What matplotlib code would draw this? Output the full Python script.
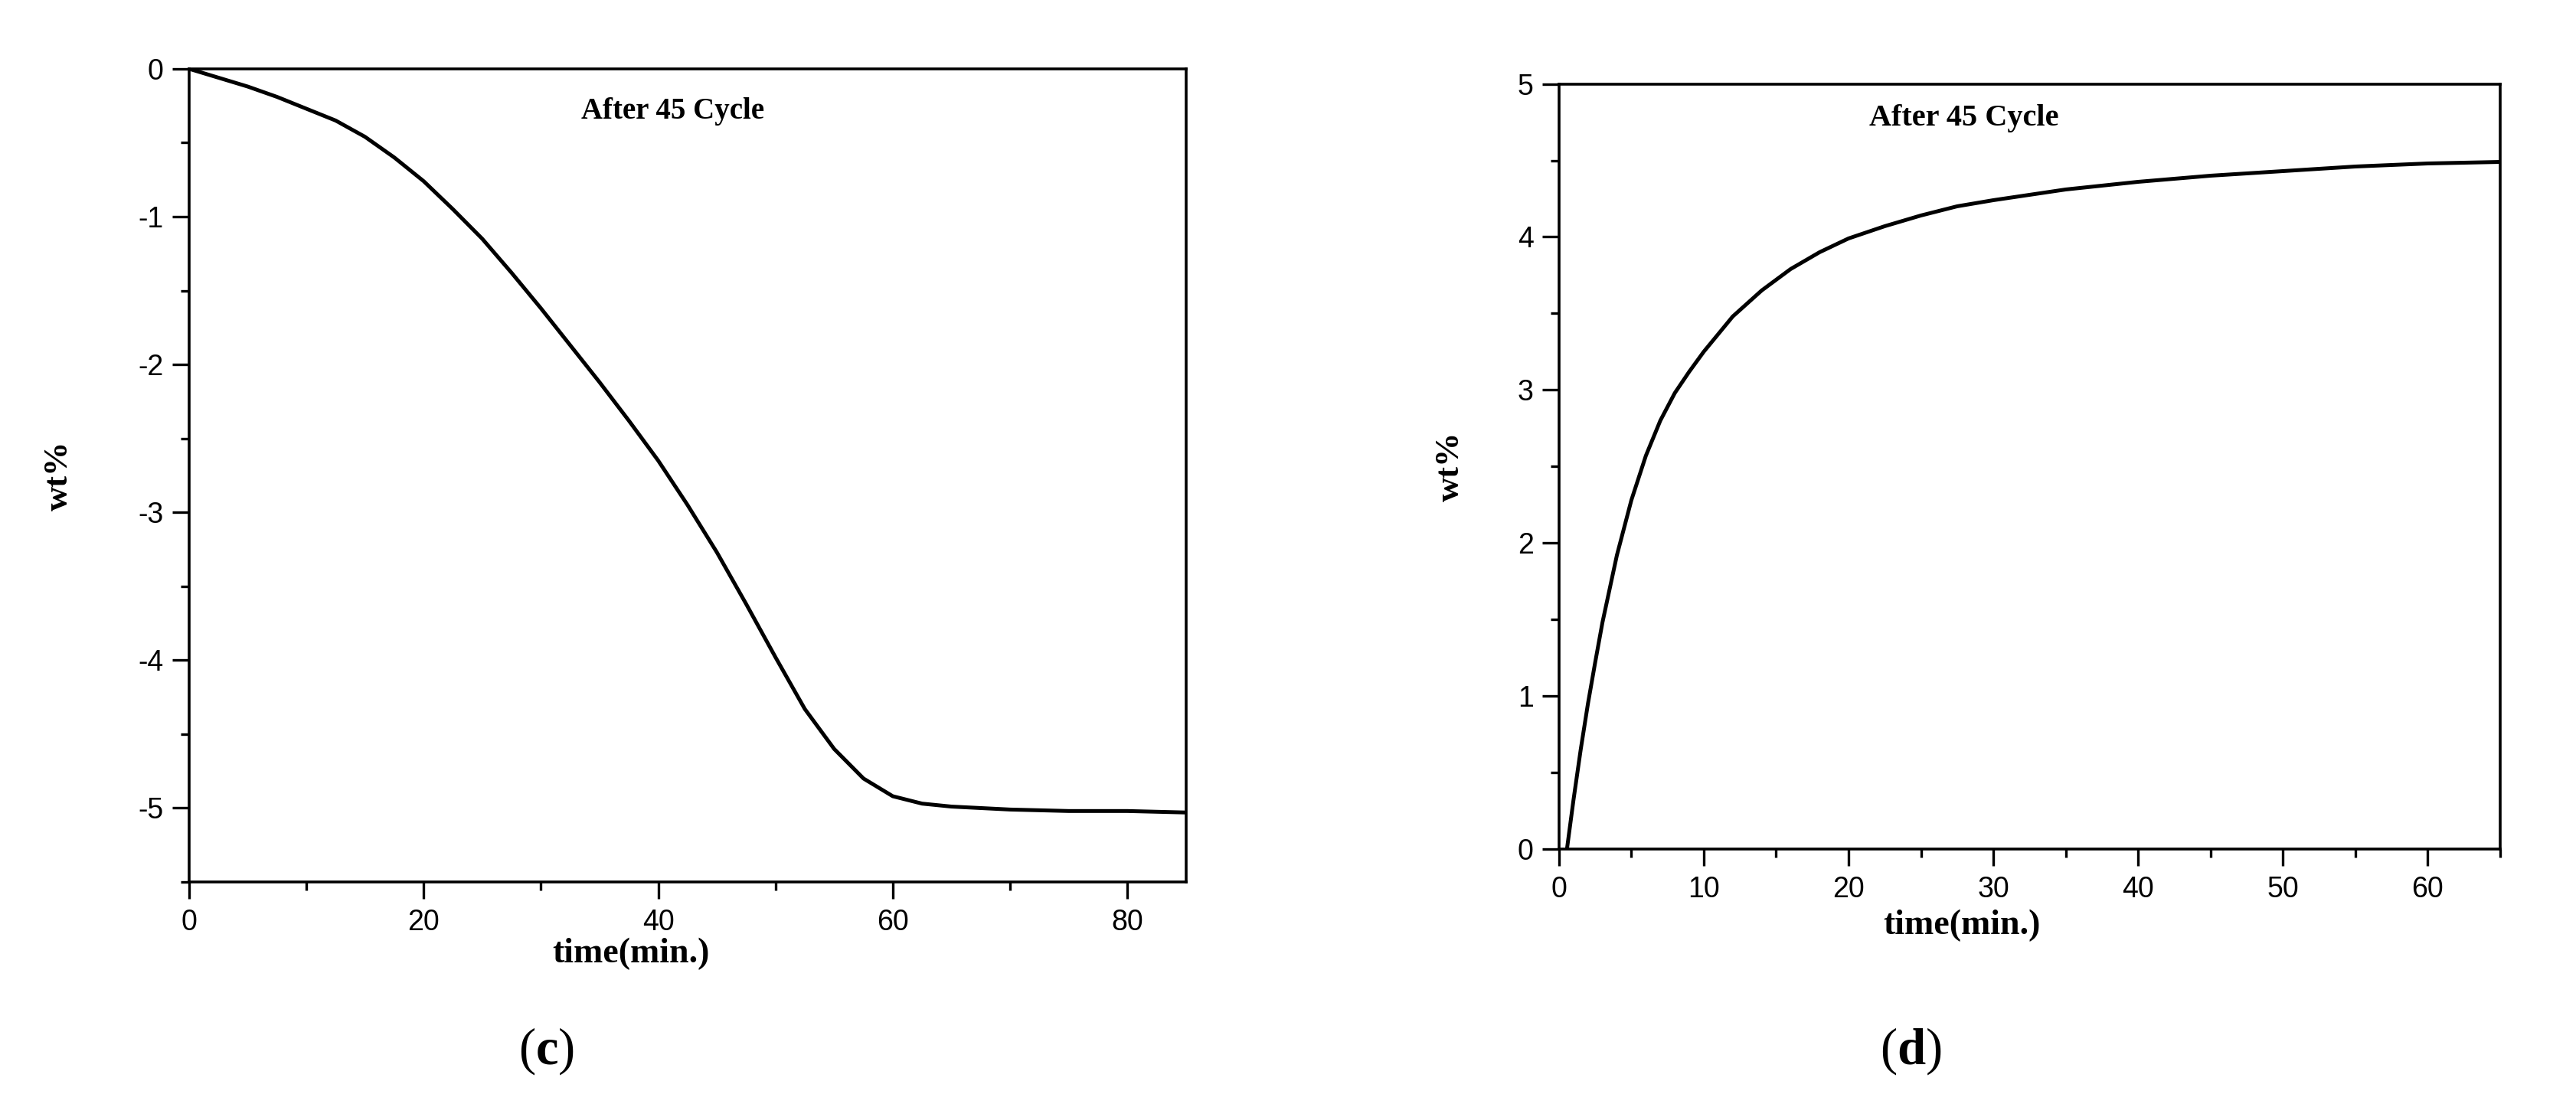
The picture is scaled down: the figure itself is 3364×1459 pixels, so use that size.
import matplotlib
matplotlib.use("Agg")
import matplotlib.pyplot as plt
from matplotlib.ticker import MultipleLocator

# panel (c): dehydrogenation after 45 cycles
left_t = [0, 2.5, 5, 7.5, 10, 12.5, 15, 17.5, 20, 22.5, 25, 27.5, 30, 32.5, 35, 37.5,
          40, 42.5, 45, 47.5, 50, 52.5, 55, 57.5, 60, 62.5, 65, 70, 75, 80, 85]
left_wt = [0, -0.06, -0.12, -0.19, -0.27, -0.35, -0.46, -0.6, -0.76, -0.95, -1.15,
           -1.38, -1.62, -1.87, -2.12, -2.38, -2.65, -2.95, -3.27, -3.62, -3.98,
           -4.33, -4.6, -4.8, -4.92, -4.97, -4.99, -5.01, -5.02, -5.02, -5.03]

# panel (d): hydrogenation after 45 cycles
right_t = [0.55, 1, 1.5, 2, 2.5, 3, 3.5, 4, 5, 6, 7, 8, 9, 10, 12, 14, 16, 18, 20,
           22.5, 25, 27.5, 30, 35, 40, 45, 50, 55, 60, 65]
right_wt = [0, 0.32, 0.65, 0.95, 1.22, 1.48, 1.7, 1.92, 2.28, 2.57, 2.8, 2.98, 3.12,
            3.25, 3.48, 3.65, 3.79, 3.9, 3.99, 4.07, 4.14, 4.2, 4.24, 4.31, 4.36,
            4.4, 4.43, 4.46, 4.48, 4.49]

plt.rcParams['axes.unicode_minus'] = False
plt.rcParams['mathtext.fontset'] = 'custom'
plt.rcParams['mathtext.rm'] = 'Liberation Serif'
plt.rcParams['mathtext.bf'] = 'Liberation Serif:bold'

serif = 'Liberation Serif'
sans = 'Liberation Sans'

fig = plt.figure(figsize=(33.64, 14.59), dpi=100)
ax1 = fig.add_axes([0.0734, 0.2104, 0.387, 0.728])
ax2 = fig.add_axes([0.6052, 0.2399, 0.3653, 0.685])


def style_axes(ax, xmajor, xminor, ymajor, yminor):
    for s in ax.spines.values():
        s.set_linewidth(2.6)
    ax.xaxis.set_major_locator(MultipleLocator(xmajor))
    ax.xaxis.set_minor_locator(MultipleLocator(xminor))
    ax.yaxis.set_major_locator(MultipleLocator(ymajor))
    ax.yaxis.set_minor_locator(MultipleLocator(yminor))
    ax.tick_params(which='major', direction='out', length=16, width=2.4,
                   labelsize=27, pad=9)
    ax.tick_params(which='minor', direction='out', length=8, width=2.4)
    ax.tick_params(axis='y', pad=8)
    for lab in ax.get_xticklabels() + ax.get_yticklabels():
        lab.set_fontfamily(sans)


ax1.plot(left_t, left_wt, color='black', linewidth=3.6)
ax1.set_xlim(0, 85)
ax1.set_ylim(-5.5, 0)
style_axes(ax1, 20, 10, 1, 0.5)
ax1.set_xlabel('time(min.)', fontfamily=serif, fontweight='bold', fontsize=33)
ax1.xaxis.set_label_coords(0.443, -0.068)
ax1.set_ylabel('wt%', fontfamily=serif, fontweight='bold', fontsize=32)
ax1.yaxis.set_label_coords(-0.115, 0.5)
ax1.text(0.485, 0.948, 'After 45 Cycle', transform=ax1.transAxes, ha='center',
         va='center', fontfamily=serif, fontweight='bold', fontsize=28)

ax2.plot(right_t, right_wt, color='black', linewidth=3.6)
ax2.set_xlim(0, 65)
ax2.set_ylim(0, 5)
style_axes(ax2, 10, 5, 1, 0.5)
ax2.set_xlabel('time(min.)', fontfamily=serif, fontweight='bold', fontsize=33)
ax2.xaxis.set_label_coords(0.428, -0.079)
ax2.set_ylabel('wt%', fontfamily=serif, fontweight='bold', fontsize=32)
ax2.yaxis.set_label_coords(-0.099, 0.5)
ax2.text(0.43, 0.955, 'After 45 Cycle', transform=ax2.transAxes, ha='center',
         va='center', fontfamily=serif, fontweight='bold', fontsize=29)

fig.text(714 / 3364, 1 - 1373 / 1459, r'$\mathrm{(}\mathbf{c}\mathrm{)}$',
         ha='center', va='center', fontsize=48)
fig.text(2495 / 3364, 1 - 1373 / 1459, r'$\mathrm{(}\mathbf{d}\mathrm{)}$',
         ha='center', va='center', fontsize=48)

fig.savefig('out.png', dpi=100, facecolor='white')
